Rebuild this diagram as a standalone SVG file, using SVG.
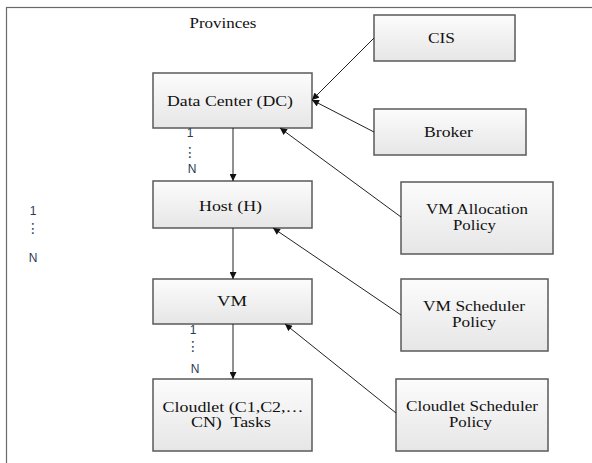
<svg xmlns="http://www.w3.org/2000/svg" width="592" height="463" viewBox="0 0 592 463">
<style>
.box{fill:url(#g);stroke:#5a5a5a;stroke-width:1.5}
.t{font-family:"Liberation Serif","Times New Roman",serif;font-size:15px;fill:#111;text-anchor:middle}
.n{font-family:"Liberation Sans",Arial,sans-serif;font-size:12px;fill:#2a3a55;text-anchor:middle}
.d{font-family:"DejaVu Sans",sans-serif;font-size:14px;fill:#2a3a55;text-anchor:middle}
.c{stroke:#222;stroke-width:1;fill:none;marker-end:url(#a)}
</style>
<defs>
<linearGradient id="g" x1="0" y1="0" x2="0" y2="1">
<stop offset="0" stop-color="#fcfcfc"/>
<stop offset="1" stop-color="#e6e6e6"/>
</linearGradient>
<marker id="a" viewBox="0 0 10 10" refX="10" refY="5" markerWidth="8" markerHeight="7" markerUnits="userSpaceOnUse" orient="auto">
<path d="M0,0 L10,5 L0,10 z" fill="#111"/>
</marker>
</defs>
<rect x="0" y="0" width="592" height="463" fill="#fff"/>
<rect id="frame" x="6.5" y="7.5" width="620" height="490" fill="#fff" stroke="#6a6a6a" stroke-width="1.2"/>
<text class="t" x="223" y="28" textLength="67" lengthAdjust="spacingAndGlyphs">Provinces</text>

<g id="dc"><rect class="box" x="153" y="73" width="159" height="55"/><text class="t" x="230" y="106" textLength="126" lengthAdjust="spacingAndGlyphs">Data Center (DC)</text></g>
<g id="host"><rect class="box" x="153" y="181" width="159" height="47"/><text class="t" x="230.5" y="211" textLength="63" lengthAdjust="spacingAndGlyphs">Host (H)</text></g>
<g id="vm"><rect class="box" x="153" y="279" width="159" height="45"/><text class="t" x="232" y="306" textLength="30" lengthAdjust="spacingAndGlyphs">VM</text></g>
<g id="cloudlet"><rect class="box" x="153" y="379" width="159" height="72"/><text class="t" x="233" y="412" textLength="141" lengthAdjust="spacingAndGlyphs">Cloudlet (C1,C2,…</text><text class="t" x="231" y="427" textLength="80" lengthAdjust="spacingAndGlyphs" xml:space="preserve">CN)  Tasks</text></g>

<g id="cis"><rect class="box" x="374" y="15" width="141" height="46"/><text class="t" x="441.5" y="43" textLength="27" lengthAdjust="spacingAndGlyphs">CIS</text></g>
<g id="broker"><rect class="box" x="374" y="109" width="152" height="46"/><text class="t" x="448.5" y="137" textLength="49" lengthAdjust="spacingAndGlyphs">Broker</text></g>
<g id="vmalloc"><rect class="box" x="401" y="182" width="152" height="72"/><text class="t" x="477" y="214" textLength="102" lengthAdjust="spacingAndGlyphs">VM Allocation</text><text class="t" x="474.5" y="230" textLength="43" lengthAdjust="spacingAndGlyphs">Policy</text></g>
<g id="vmsched"><rect class="box" x="401" y="279" width="147" height="72"/><text class="t" x="474" y="311" textLength="102" lengthAdjust="spacingAndGlyphs">VM Scheduler</text><text class="t" x="474" y="327" textLength="44" lengthAdjust="spacingAndGlyphs">Policy</text></g>
<g id="clsched"><rect class="box" x="396" y="379" width="152" height="72"/><text class="t" x="472" y="411" textLength="132" lengthAdjust="spacingAndGlyphs">Cloudlet Scheduler</text><text class="t" x="470.5" y="427" textLength="43" lengthAdjust="spacingAndGlyphs">Policy</text></g>

<g id="mult">
<text class="n" x="190" y="137">1</text><text class="d" x="190" y="157">⋮</text><text class="n" x="192" y="173">N</text>
<text class="n" x="33" y="215">1</text><text class="d" x="33" y="233">⋮</text><text class="n" x="33" y="262">N</text>
<text class="n" x="193" y="334">1</text><text class="d" x="193" y="351">⋮</text><text class="n" x="195" y="373">N</text>
</g>

<g id="connectors">
<line class="c" x1="233" y1="128" x2="233" y2="181"/>
<line class="c" x1="233" y1="228" x2="233" y2="279"/>
<line class="c" x1="233" y1="324" x2="233" y2="379"/>
<line class="c" x1="374" y1="38" x2="312" y2="100"/>
<line class="c" x1="374" y1="132" x2="312" y2="100"/>
<line class="c" x1="401" y1="217" x2="280" y2="128"/>
<line class="c" x1="401" y1="315" x2="273" y2="228"/>
<line class="c" x1="396" y1="413" x2="285" y2="324"/>
</g>
</svg>
